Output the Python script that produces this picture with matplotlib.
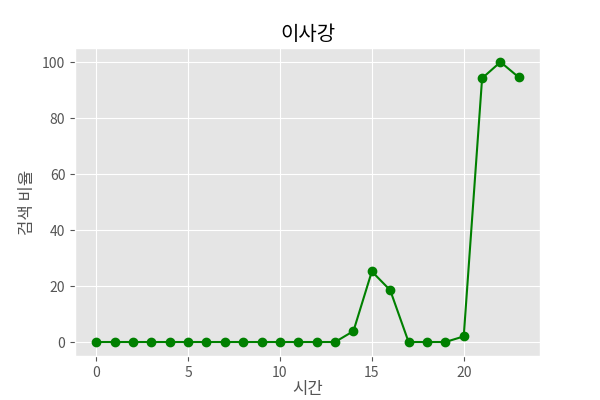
import matplotlib
matplotlib.use("Agg")
import matplotlib.pyplot as plt

plt.style.use("ggplot")
plt.rcParams['font.family'] = ['Noto Sans CJK KR', 'DejaVu Sans']
plt.rcParams['axes.unicode_minus'] = False

# hourly search ratio
hours = list(range(24))
ratio = [0, 0, 0, 0, 0, 0, 0, 0, 0, 0, 0, 0, 0, 0,
         3.9, 25.2, 18.5, 0, 0, 0, 2.0, 94.2, 100, 94.5]

fig = plt.figure(figsize=(6, 4), dpi=100)
plt.plot(hours, ratio, color="green", marker="o")
plt.title("이사강")
plt.xlabel("시간", labelpad=1)
plt.ylabel("검색 비율")
plt.savefig("out.png")
